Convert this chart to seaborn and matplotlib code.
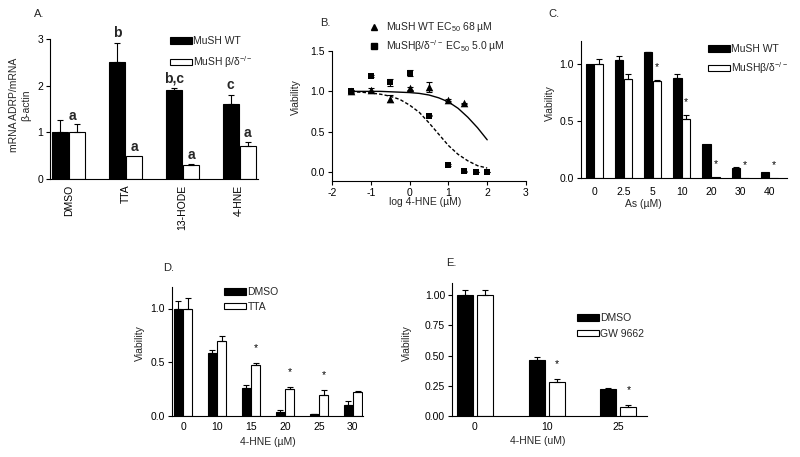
import numpy as np
import pandas as pd
import matplotlib
matplotlib.use("Agg")
import matplotlib.pyplot as plt
import seaborn as sns
from matplotlib.patches import Patch
from matplotlib.lines import Line2D

sns.set_theme(style="ticks")
plt.rcParams['font.family'] = ['Liberation Sans', 'DejaVu Sans']
plt.rcParams['mathtext.fontset'] = 'custom'
plt.rcParams['mathtext.rm'] = 'Liberation Sans'
plt.rcParams['mathtext.it'] = 'Liberation Sans:italic'
plt.rcParams['mathtext.bf'] = 'Liberation Sans:bold'

# ---------------- data ----------------
# Panel A
a_categories = ["DMSO", "TTA", "13-HODE", "4-HNE"]
a_groups = ["MuSH WT", r"MuSH β/δ$^{-/-}$"]
a_wt = [1.0, 2.5, 1.9, 1.6]
a_wt_err = [0.27, 0.42, 0.04, 0.21]
a_ko = [1.0, 0.5, 0.3, 0.7]
a_ko_err = [0.17, 0.0, 0.02, 0.09]
a_letters_wt = ["", "b", "b,c", "c"]
a_letters_ko = ["a", "a", "a", "a"]

# Panel B
b_logx_wt = [-1.5, -1.0, -0.5, 0.0, 0.5, 1.0, 1.4]
b_wt = [1.01, 1.02, 0.91, 1.04, 1.05, 0.89, 0.85]
b_wt_err = [0.01, 0.02, 0.04, 0.02, 0.06, 0.01, 0.01]
b_logx_ko = [-1.5, -1.0, -0.5, 0.0, 0.5, 1.0, 1.4, 1.7, 2.0]
b_ko = [1.0, 1.19, 1.11, 1.23, 0.70, 0.09, 0.01, 0.0, 0.0]
b_ko_err = [0.02, 0.01, 0.04, 0.04, 0.01, 0.01, 0.01, 0.0, 0.0]
b_curve_x = [-1.5, -1.25, -1.0, -0.75, -0.5, -0.25, 0.0, 0.25, 0.5, 0.75,
             1.0, 1.25, 1.5, 1.75, 2.0]
b_curve_wt = [1.0, 1.0, 1.0, 1.0, 0.995, 0.99, 0.985, 0.975, 0.955, 0.92,
              0.87, 0.79, 0.68, 0.55, 0.40]
b_curve_ko = [0.995, 0.99, 0.98, 0.965, 0.94, 0.90, 0.83, 0.74, 0.61, 0.47,
              0.33, 0.22, 0.14, 0.08, 0.05]
b_labels = [r"MuSH WT EC$_{50}$ 68 µM", r"MuSHβ/δ$^{-/-}$ EC$_{50}$ 5.0 µM"]

# Panel C
c_categories = ["0", "2.5", "5", "10", "20", "30", "40"]
c_groups = ["MuSH WT", r"MuSHβ/δ$^{-/-}$"]
c_wt = [1.0, 1.03, 1.10, 0.88, 0.30, 0.09, 0.05]
c_wt_err = [0.0, 0.035, 0.005, 0.03, 0.0, 0.005, 0.0]
c_ko = [1.0, 0.87, 0.85, 0.52, 0.005, 0.0, 0.0]
c_ko_err = [0.04, 0.045, 0.01, 0.03, 0.0, 0.0, 0.0]
c_star = ["", "", "*", "*", "*", "*", "*"]

# Panel D
d_categories = ["0", "10", "15", "20", "25", "30"]
d_groups = ["DMSO", "TTA"]
d_dmso = [1.0, 0.59, 0.26, 0.04, 0.015, 0.10]
d_dmso_err = [0.07, 0.02, 0.025, 0.02, 0.005, 0.035]
d_tta = [1.0, 0.70, 0.47, 0.25, 0.20, 0.22]
d_tta_err = [0.10, 0.04, 0.025, 0.02, 0.045, 0.015]
d_star = ["", "", "*", "*", "*", ""]

# Panel E
e_categories = ["0", "10", "25"]
e_groups = ["DMSO", "GW 9662"]
e_dmso = [1.0, 0.46, 0.22]
e_dmso_err = [0.04, 0.03, 0.015]
e_gw = [1.0, 0.28, 0.075]
e_gw_err = [0.045, 0.025, 0.02]
e_star = ["", "*", "*"]

# ---------------- layout helpers ----------------
W, H = 800, 457
fig = plt.figure(figsize=(8, 4.57), dpi=100)
fig.patch.set_facecolor("white")


def fx(px):
    return px / W


def fy(py):
    return 1 - py / H


def make_ax(l, t, r, b):
    return fig.add_axes([l / W, 1 - b / H, (r - l) / W, (b - t) / H])


TICK_FS = 7.5
LW = 0.8


def style(ax, bar=True, xpad=4):
    sns.despine(ax=ax)
    for s in ("left", "bottom"):
        ax.spines[s].set_linewidth(LW)
        ax.spines[s].set_color("black")
    ax.tick_params(axis="both", direction="out", length=3, width=LW,
                   labelsize=TICK_FS, pad=2, colors="black")
    if bar:
        ax.tick_params(axis="x", length=0, pad=xpad)
    ax.set_xlabel("")
    ax.set_ylabel("")
    ax.set_facecolor("white")


def grouped_bars(ax, cats, groups, series, errs, width, gap):
    rows = []
    for g, vals in zip(groups, series):
        for c, v in zip(cats, vals):
            rows.append({"cat": c, "grp": g, "val": v})
    df = pd.DataFrame(rows)
    sns.barplot(data=df, x="cat", y="val", hue="grp", order=cats,
                hue_order=groups, palette=["black", "white"], saturation=1,
                edgecolor="black", linewidth=LW, width=width, gap=gap,
                errorbar=None, legend=False, ax=ax)
    tops = []
    for cont, err in zip(ax.containers, errs):
        xs = np.array([b.get_x() + b.get_width() / 2 for b in cont])
        ys = np.array([b.get_height() for b in cont])
        err = np.array(err)
        m = err > 0
        if m.any():
            ax.errorbar(xs[m], ys[m], yerr=[np.zeros(m.sum()), err[m]],
                        fmt="none", ecolor="black", elinewidth=LW,
                        capsize=2.5, capthick=LW)
        tops.append((xs, ys + err))
    return tops


def bar_legend(ax, labels, x_left, y_center, spacing):
    handles = [Patch(facecolor="black", edgecolor="black", linewidth=LW),
               Patch(facecolor="white", edgecolor="black", linewidth=LW)]
    fs = 7.5
    fs_px = fs * 100 / 72
    ax.legend(handles, labels, loc="center left",
              bbox_to_anchor=(fx(x_left), fy(y_center)),
              bbox_transform=fig.transFigure, frameon=False, fontsize=fs,
              borderpad=0, borderaxespad=0, handlelength=2.1,
              handleheight=0.6, handletextpad=0.15,
              labelspacing=(spacing - fs_px) / fs_px)


def stars(ax, tops, marks, offset=0.04):
    xs, ys = tops
    for x, y, s in zip(xs, ys, marks):
        if s:
            ax.text(x, y + offset, s, ha="center", va="bottom",
                    fontsize=7.5, color="black")


# ---------------- Panel A ----------------
axA = make_ax(50, 39, 258, 179)
topsA = grouped_bars(axA, a_categories, a_groups, [a_wt, a_ko],
                     [a_wt_err, a_ko_err], width=0.6, gap=0.08)
axA.set_ylim(0, 3)
axA.set_xlim(-0.33, 3.33)
axA.set_yticks([0, 1, 2, 3])
style(axA)
axA.tick_params(axis="x", labelrotation=90)
for i, (lw_, lk) in enumerate(zip(a_letters_wt, a_letters_ko)):
    if lw_:
        axA.text(topsA[0][0][i], topsA[0][1][i] + 0.06, lw_, ha="center",
                 va="bottom", fontsize=10, fontweight="bold", clip_on=False)
    if lk:
        axA.text(topsA[1][0][i] - (0.08 if i == 0 else 0),
                 topsA[1][1][i] + 0.04, lk, ha="center",
                 va="bottom", fontsize=10, fontweight="bold")
bar_legend(axA, a_groups, 170, 53, 18)
fig.text(fx(20), fy(105), "mRNA ADRP/mRNA\nβ-actin", rotation=90,
         ha="center", va="center", fontsize=7.5, multialignment="center")
fig.text(fx(34), fy(14), "A.", fontsize=8, ha="left", va="center")

# ---------------- Panel B ----------------
axB = make_ax(332, 51, 526, 181)
sns.lineplot(x=b_curve_x, y=b_curve_wt, color="black", linewidth=1, ax=axB)
sns.lineplot(x=b_curve_x, y=b_curve_ko, color="black", linewidth=1,
             linestyle=(0, (2.5, 1.5)), ax=axB)
axB.errorbar(b_logx_wt, b_wt, yerr=b_wt_err, fmt="none", ecolor="black",
             elinewidth=LW, capsize=2, capthick=LW)
axB.errorbar(b_logx_ko, b_ko, yerr=b_ko_err, fmt="none", ecolor="black",
             elinewidth=LW, capsize=2, capthick=LW)
sns.scatterplot(x=b_logx_wt, y=b_wt, marker="^", color="black", s=30,
                linewidth=0, ax=axB, zorder=3)
sns.scatterplot(x=b_logx_ko, y=b_ko, marker="s", color="black", s=22,
                linewidth=0, ax=axB, zorder=3)
axB.set_xlim(-2, 3)
axB.set_ylim(-0.11, 1.5)
axB.set_xticks([-2, -1, 0, 1, 2, 3])
axB.set_xticklabels(["-2", "-1", "0", "1", "2", "3"])
axB.set_yticks([0.0, 0.5, 1.0, 1.5])
axB.set_yticklabels(["0.0", "0.5", "1.0", "1.5"])
style(axB, bar=False)
hB = [Line2D([], [], marker="^", color="black", linestyle="none", markersize=5),
      Line2D([], [], marker="s", color="black", linestyle="none", markersize=4)]
fs_px = 7.5 * 100 / 72
axB.legend(hB, b_labels, loc="center left",
           bbox_to_anchor=(fx(369), fy(37)), bbox_transform=fig.transFigure,
           frameon=False, fontsize=7.5, borderpad=0, borderaxespad=0,
           handlelength=1.0, handletextpad=0.6,
           labelspacing=(14 - fs_px) / fs_px)
fig.text(fx(296), fy(97), "Viability", rotation=90, ha="center",
         va="center", fontsize=7.5)
fig.text(fx(425), fy(202), "log 4-HNE (µM)", ha="center", va="center",
         fontsize=7.5)
fig.text(fx(320), fy(23), "B.", fontsize=8, ha="left", va="center")

# ---------------- Panel C ----------------
axC = make_ax(581, 41, 787, 178)
topsC = grouped_bars(axC, c_categories, c_groups, [c_wt, c_ko],
                     [c_wt_err, c_ko_err], width=0.6, gap=0.05)
axC.set_ylim(0, 1.2)
axC.set_xlim(-0.45, 6.6)
axC.set_yticks([0.0, 0.5, 1.0])
axC.set_yticklabels(["0.0", "0.5", "1.0"])
style(axC, xpad=6.5)
stars(axC, topsC[1], c_star, offset=0.07)
bar_legend(axC, c_groups, 708, 60, 16)
fig.text(fx(550), fy(103), "Viability", rotation=90, ha="center",
         va="center", fontsize=7.5)
fig.text(fx(643), fy(204), "As (µM)", ha="center", va="center", fontsize=7.5)
fig.text(fx(548), fy(14), "C.", fontsize=8, ha="left", va="center")

# ---------------- Panel D ----------------
axD = make_ax(172, 287, 363, 416)
topsD = grouped_bars(axD, d_categories, d_groups, [d_dmso, d_tta],
                     [d_dmso_err, d_tta_err], width=0.56, gap=0.05)
axD.set_ylim(0, 1.2)
axD.set_xlim(-0.33, 5.3)
axD.set_yticks([0.0, 0.5, 1.0])
axD.set_yticklabels(["0.0", "0.5", "1.0"])
style(axD)
stars(axD, topsD[1], d_star, offset=0.09)
bar_legend(axD, d_groups, 224, 299.5, 15)
fig.text(fx(140), fy(343), "Viability", rotation=90, ha="center",
         va="center", fontsize=7.5)
fig.text(fx(268), fy(442), "4-HNE (µM)", ha="center", va="center",
         fontsize=7.5)
fig.text(fx(163), fy(268), "D.", fontsize=8, ha="left", va="center")

# ---------------- Panel E ----------------
axE = make_ax(452, 283, 647, 416)
topsE = grouped_bars(axE, e_categories, e_groups, [e_dmso, e_gw],
                     [e_dmso_err, e_gw_err], width=0.56, gap=0.21)
axE.set_ylim(0, 1.1)
axE.set_xlim(-0.32, 2.4)
axE.set_yticks([0.0, 0.25, 0.5, 0.75, 1.0])
axE.set_yticklabels(["0.00", "0.25", "0.50", "0.75", "1.00"])
style(axE)
stars(axE, topsE[1], e_star, offset=0.08)
bar_legend(axE, e_groups, 577, 326, 16)
fig.text(fx(407), fy(343), "Viability", rotation=90, ha="center",
         va="center", fontsize=7.5)
fig.text(fx(538), fy(441), "4-HNE (uM)", ha="center", va="center",
         fontsize=7.5)
fig.text(fx(446), fy(263), "E.", fontsize=8, ha="left", va="center")

fig.savefig("out.png", dpi=100, facecolor="white")
